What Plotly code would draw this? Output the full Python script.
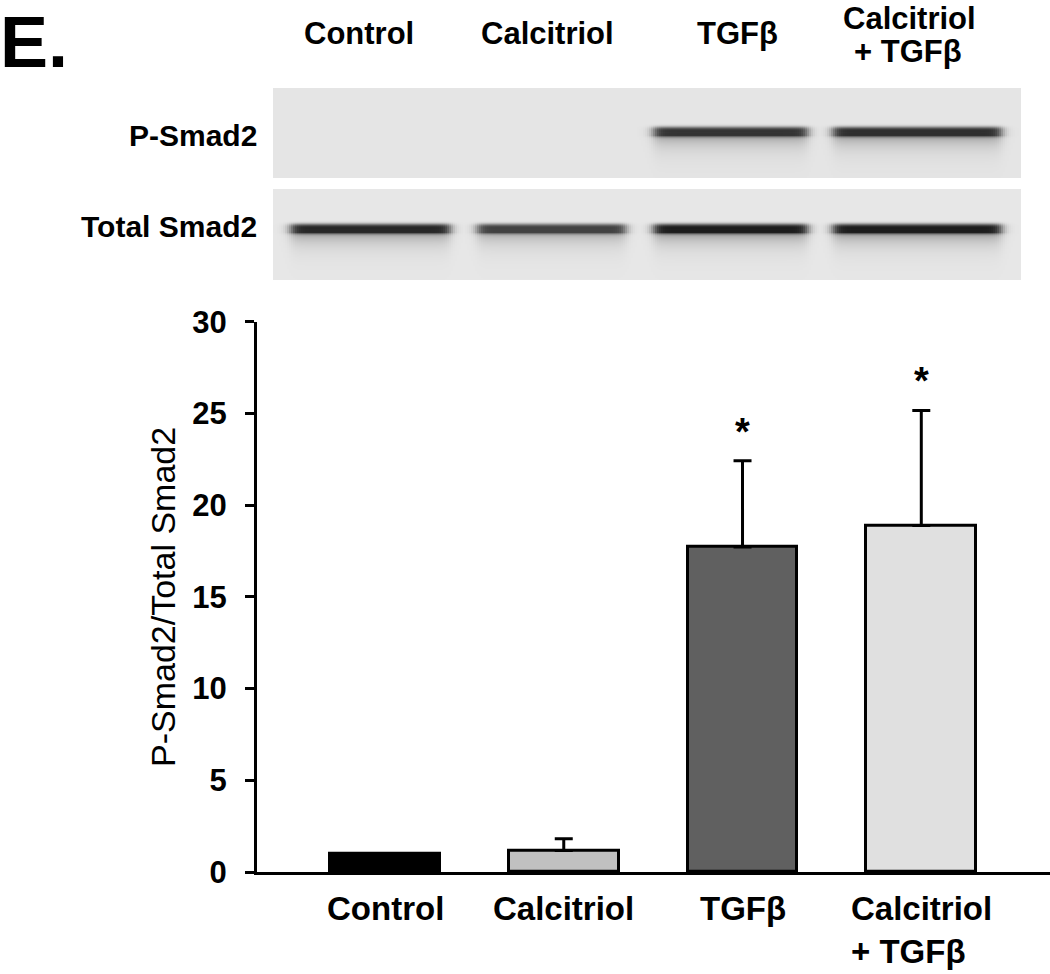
import numpy as np
import plotly.graph_objects as go

# ---------------- data ----------------
categories = ["Control", "Calcitriol", "TGFβ", "Calcitriol<br>+ TGFβ"]
ratio_mean = [1.0, 1.17, 17.72, 18.89]
ratio_sem = [0.0, 0.64, 4.70, 6.27]
significant = [False, False, True, True]
y_ticks = [0, 5, 10, 15, 20, 25, 30]

blot_rows = ["P-Smad2", "Total Smad2"]
p_smad2_band = [0.0, 0.0, 0.92, 0.95]      # relative band darkness per lane
total_smad2_band = [0.95, 0.82, 1.0, 1.0]

# ---------------- styles ----------------
W, H = 1050, 974
FONT = "Liberation Sans, Arial, sans-serif"
bar_colors = ["#000000", "#c0c0c0", "#606060", "#e0e0e0"]
band_halfwidth = [0.44, 0.41, 0.425, 0.465]   # lane units
band_offset = [0.0, 0.0, -0.01, 0.02]


def px_x(p):
    return p / W


def px_y(p):
    return 1 - p / H


fig = go.Figure()

# ---------------- bar chart ----------------
fig.add_trace(go.Bar(
    x=list(range(len(categories))), y=ratio_mean, width=0.615,
    marker=dict(color=bar_colors, line=dict(color="black", width=3)),
    error_y=dict(type="data", symmetric=False, array=ratio_sem,
                 arrayminus=[0] * len(ratio_sem), color="black",
                 thickness=3, width=9),
    hoverinfo="skip", showlegend=False,
))

# ---------------- blot (rendered as heatmaps) ----------------
x_lo, x_hi = -0.5387, 3.594
ncol = 374
step = (x_hi - x_lo) / ncol
xc = x_lo + step * (np.arange(ncol) + 0.5)
edge = 3.0 / 181.0


def hx(c, hw):
    return 1 / (1 + np.exp(-(xc - (c - hw)) / edge)) * 1 / (1 + np.exp((xc - (c + hw)) / edge))


def vprofile(rows, top):
    d = rows - top
    core = np.exp(-(np.abs(d - 4.5) / 4.8) ** 3)
    smear = np.where(d > 6, 0.55 * np.exp(-(d - 6) / 9.5), 0.0)
    return np.clip(core + smear, 0, 1)


def blot_image(bands, row0, nrows, top, bg, dark):
    rows = np.arange(nrows) + 0.5
    prof = vprofile(rows, top)
    inten = np.zeros((nrows, ncol))
    for i, a in enumerate(bands):
        if a > 0:
            inten = np.maximum(inten, a * np.outer(prof, hx(i + band_offset[i], band_halfwidth[i])))
    img = bg - (bg - dark) * inten
    return (row0 + rows).tolist(), np.round(img).astype(int).tolist()


y1, z1 = blot_image(p_smad2_band, 0, 90, 39, 229, 36)
y2, z2 = blot_image(total_smad2_band, 101, 91, 35, 231, 28)
gray = [[0, "rgb(0,0,0)"], [1, "rgb(255,255,255)"]]
for yy, zz in ((y1, z1), (y2, z2)):
    fig.add_trace(go.Heatmap(x=xc.tolist(), y=yy, z=zz, colorscale=gray, zmin=0, zmax=255,
                             showscale=False, hoverinfo="skip", xaxis="x2", yaxis="y2"))

# ---------------- layout ----------------
fig.update_layout(
    template="none",
    width=W, height=H, autosize=False,
    margin=dict(l=0, r=0, t=0, b=0, pad=0, autoexpand=False),
    paper_bgcolor="white", plot_bgcolor="rgba(0,0,0,0)",
    font=dict(family=FONT, color="black"),
    showlegend=False,
    xaxis=dict(domain=[px_x(257), 1.0], range=[-0.716, 3.72], showgrid=False, zeroline=False,
               showticklabels=False, ticks="", showline=True, linewidth=3, linecolor="black",
               fixedrange=True, automargin=False),
    yaxis=dict(domain=[px_y(872), px_y(321.7)], range=[0, 30], tickvals=y_ticks,
               showgrid=False, zeroline=False, showline=True, linewidth=3, linecolor="black",
               ticks="outside", ticklen=9, tickwidth=3, tickcolor="black",
               tickfont=dict(family=FONT, size=31, color="black", weight="bold"),
               ticklabelstandoff=12, fixedrange=True, automargin=False),
    xaxis2=dict(domain=[px_x(273), px_x(1021)], range=[x_lo, x_hi], visible=False,
                anchor="y2", fixedrange=True, automargin=False),
    yaxis2=dict(domain=[px_y(280), px_y(88)], range=[192, 0], visible=False,
                anchor="x2", fixedrange=True, automargin=False),
    bargap=0,
)

ann = []
# y-axis title
ann.append(dict(text="P-Smad2/Total Smad2", xref="paper", yref="paper", x=px_x(163), y=px_y(597),
                textangle=-90, showarrow=False, xanchor="center", yanchor="middle",
                font=dict(family=FONT, size=34, color="black")))
# category labels under the bars
for i, c in enumerate(categories):
    ann.append(dict(text=f"<b>{c}</b>", xref="x", yref="paper", x=i, y=px_y(887.5),
                    showarrow=False, xanchor="center", yanchor="top", align="left",
                    font=dict(family=FONT, size=33, color="black")))
# significance stars
for i, s in enumerate(significant):
    if s:
        ann.append(dict(text="<b>*</b>", xref="x", yref="y", x=i, y=ratio_mean[i] + ratio_sem[i],
                        yshift=29, showarrow=False, xanchor="center", yanchor="middle",
                        font=dict(family=FONT, size=38, color="black")))
# panel letter
ann.append(dict(text="<b>E.</b>", xref="paper", yref="paper", x=px_x(-2), y=px_y(42),
                showarrow=False, xanchor="left", yanchor="middle",
                font=dict(family=FONT, size=72, color="black")))
# lane headers above the blot
header_lines = [("Control", 359, 33), ("Calcitriol", 547, 33), ("TGFβ", 737, 33),
                ("+ TGFβ", 908, 51)]
for t, hxp, hyp in header_lines:
    ann.append(dict(text=f"<b>{t}</b>", xref="paper", yref="paper", x=px_x(hxp), y=px_y(hyp),
                    showarrow=False, xanchor="center", yanchor="middle",
                    font=dict(family=FONT, size=31, color="black")))
ann.append(dict(text="<b>Calcitriol</b>", xref="paper", yref="paper", x=px_x(909), y=1.0,
                showarrow=False, xanchor="center", yanchor="top", borderpad=0,
                font=dict(family=FONT, size=31, color="black")))
# blot row labels
for t, ry, fs in zip(blot_rows, [136, 226], [30, 30]):
    ann.append(dict(text=f"<b>{t}</b>", xref="paper", yref="paper", x=px_x(259), y=px_y(ry),
                    showarrow=False, xanchor="right", yanchor="middle",
                    font=dict(family=FONT, size=fs, color="black")))
fig.update_layout(annotations=ann)

fig.write_html("out.html", config={"displayModeBar": False},
               post_script="document.body.style.margin='0';document.body.style.overflow='hidden';")
